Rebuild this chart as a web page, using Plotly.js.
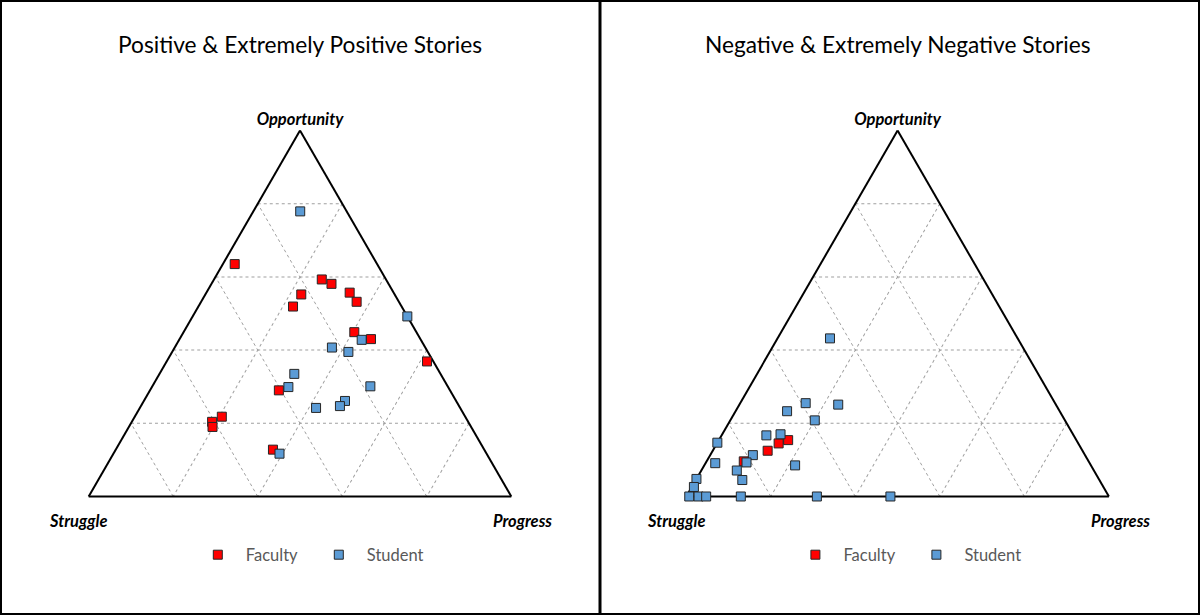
<!DOCTYPE html>
<html>
<head>
<meta charset="utf-8">
<script src="https://cdn.plot.ly/plotly-3.0.1.min.js"></script>
<style>html,body{margin:0;padding:0;background:#fff;}#chart{width:1200px;height:615px;}</style>
</head>
<body>
<div id="chart"></div>
<script>
// Ternary components: Opportunity (top), Struggle (bottom-left), Progress (bottom-right)
const panelTitles = ["Positive & Extremely Positive Stories", "Negative & Extremely Negative Stories"];
const axisLabels = {a: "Opportunity", b: "Struggle", c: "Progress"};
const seriesNames = ["Faculty", "Student"];

// Positive panel - Faculty
const posFacultyOpportunity = [0.635, 0.593, 0.581, 0.552, 0.519, 0.557, 0.532, 0.449, 0.430, 0.369, 0.290, 0.218, 0.204, 0.190, 0.128];
const posFacultyStruggle    = [0.337, 0.152, 0.135, 0.221, 0.257, 0.104, 0.100, 0.147, 0.117, 0.015, 0.405, 0.576, 0.606, 0.612, 0.500];
const posFacultyProgress    = [0.028, 0.255, 0.284, 0.227, 0.224, 0.339, 0.368, 0.404, 0.453, 0.616, 0.305, 0.206, 0.190, 0.198, 0.372];

// Positive panel - Student
const posStudentOpportunity = [0.779, 0.492, 0.428, 0.407, 0.395, 0.335, 0.299, 0.301, 0.242, 0.261, 0.247, 0.117];
const posStudentStruggle    = [0.110, 0.000, 0.140, 0.221, 0.188, 0.346, 0.378, 0.183, 0.341, 0.263, 0.282, 0.490];
const posStudentProgress    = [0.111, 0.508, 0.432, 0.372, 0.417, 0.319, 0.323, 0.516, 0.417, 0.476, 0.471, 0.393];

// Negative panel - Faculty
const negFacultyOpportunity = [0.154, 0.145, 0.125, 0.096];
const negFacultyStruggle    = [0.682, 0.709, 0.745, 0.816];
const negFacultyProgress    = [0.164, 0.146, 0.130, 0.088];

// Negative panel - Student
const negStudentOpportunity = [0.432, 0.255, 0.251, 0.233, 0.208, 0.167, 0.170, 0.147, 0.113, 0.093, 0.091, 0.085, 0.071, 0.045, 0.048, 0.026, 0.000, 0.000, 0.000, 0.000, 0.000, 0.000];
const negStudentStruggle    = [0.444, 0.590, 0.515, 0.645, 0.592, 0.727, 0.692, 0.853, 0.786, 0.811, 0.886, 0.700, 0.845, 0.845, 0.952, 0.969, 0.993, 0.971, 0.953, 0.871, 0.691, 0.517];
const negStudentProgress    = [0.124, 0.155, 0.234, 0.122, 0.200, 0.106, 0.138, 0.000, 0.101, 0.096, 0.023, 0.215, 0.084, 0.110, 0.000, 0.005, 0.007, 0.029, 0.047, 0.129, 0.309, 0.483];

const colors = {Faculty: "#ff0000", Student: "#5b9bd5"};
const FONT = "Lato, 'Open Sans', sans-serif";

function mk(name, a, b, c, subplot, legend) {
  return {
    type: "scatterternary", mode: "markers", name: name,
    a: a, b: b, c: c, subplot: subplot, legend: legend, showlegend: true,
    cliponaxis: false, hoverinfo: "skip",
    marker: {symbol: "square", size: 9, color: colors[name], line: {color: "#262626", width: 1}}
  };
}

const data = [
  mk(seriesNames[0], posFacultyOpportunity, posFacultyStruggle, posFacultyProgress, "ternary", "legend"),
  mk(seriesNames[1], posStudentOpportunity, posStudentStruggle, posStudentProgress, "ternary", "legend"),
  mk(seriesNames[0], negFacultyOpportunity, negFacultyStruggle, negFacultyProgress, "ternary2", "legend2"),
  mk(seriesNames[1], negStudentOpportunity, negStudentStruggle, negStudentProgress, "ternary2", "legend2")
];

function axis(title) {
  return {
    title: title ? {text: title, font: {family: FONT, size: 16.5, color: "#000", weight: "bold", style: "italic"}} : {text: ""},
    min: 0, tickmode: "linear", tick0: 0, dtick: 0.2,
    showticklabels: false, ticks: "",
    showline: true, linecolor: "#000", linewidth: 2,
    showgrid: true, gridcolor: "#a0a0a0", gridwidth: 1, griddash: "3px,3px",
    layer: "below traces"
  };
}
function tern(x0, x1) {
  return {
    domain: {x: [x0, x1], y: [0.1927, 0.7878]},
    sum: 1, bgcolor: "#fff",
    aaxis: axis(axisLabels.a), baxis: axis(""), caxis: axis("")
  };
}
function leg(xc) {
  return {
    orientation: "h", x: xc, xanchor: "center", y: 0.0976, yanchor: "middle",
    font: {family: FONT, size: 16.5, color: "#595959"}, itemwidth: 46,
    entrywidth: 60, entrywidthmode: "pixels",
    bgcolor: "rgba(0,0,0,0)", itemclick: false, itemdoubleclick: false
  };
}
function ann(text, xpx, ypx, size, bold) {
  return {
    text: text, xref: "paper", yref: "paper", x: xpx / 1200, y: 1 - ypx / 615,
    xanchor: "center", yanchor: "middle", showarrow: false,
    font: bold ? {family: FONT, size: size, color: "#000", weight: "bold", style: "italic"}
               : {family: FONT, size: size, color: "#000"}
  };
}

const layout = {
  width: 1200, height: 615,
  margin: {l: 0, r: 0, t: 0, b: 0},
  paper_bgcolor: "#fff",
  ternary: tern(0.07, 0.43),
  ternary2: tern(0.568, 0.928),
  legend: leg(0.259),
  legend2: leg(0.757),
  annotations: [
    ann(panelTitles[0], 300, 45, 22.7, false),
    ann(panelTitles[1], 898, 45, 22.7, false),
    ann(axisLabels.b, 78, 521, 16.5, true),
    ann(axisLabels.c, 522, 521, 16.5, true),
    ann(axisLabels.b, 676, 521, 16.5, true),
    ann(axisLabels.c, 1120, 521, 16.5, true)
  ],
  shapes: [
    {type: "rect", xref: "paper", yref: "paper", x0: 1/1200, x1: 1 - 1/1200, y0: 1/615, y1: 1 - 1/615, line: {color: "#000", width: 2}},
    {type: "line", xref: "paper", yref: "paper", x0: 0.5, x1: 0.5, y0: 0, y1: 1, line: {color: "#000", width: 3}}
  ]
};

Plotly.newPlot("chart", data, layout, {staticPlot: true, displayModeBar: false});
</script>
</body>
</html>
